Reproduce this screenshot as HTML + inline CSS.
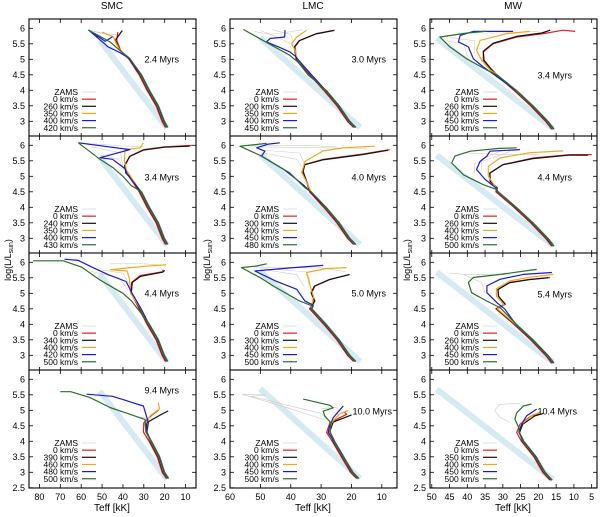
<!DOCTYPE html>
<html><head><meta charset="utf-8"><style>
html,body{margin:0;padding:0;background:#fff;}
svg{display:block;font-family:"Liberation Sans",sans-serif;}
</style></head><body>
<svg id="fig" width="600" height="517" viewBox="0 0 600 517" xmlns="http://www.w3.org/2000/svg">
<text x="112" y="9" font-size="10" text-anchor="middle">SMC</text>
<text x="313" y="9" font-size="10" text-anchor="middle">LMC</text>
<text x="513" y="9" font-size="10" text-anchor="middle">MW</text>
<text x="112" y="511" font-size="10" text-anchor="middle">Teff [kK]</text>
<text x="313" y="511" font-size="10" text-anchor="middle">Teff [kK]</text>
<text x="513" y="511" font-size="10" text-anchor="middle">Teff [kK]</text>
<text transform="translate(11,260) rotate(-90)" font-size="9" text-anchor="middle">log(L/L<tspan font-size="7" dy="2">sun</tspan><tspan dy="-2">)</tspan></text>
<text transform="translate(210,260) rotate(-90)" font-size="9" text-anchor="middle">log(L/L<tspan font-size="7" dy="2">sun</tspan><tspan dy="-2">)</tspan></text>
<text transform="translate(410,260) rotate(-90)" font-size="9" text-anchor="middle">log(L/L<tspan font-size="7" dy="2">sun</tspan><tspan dy="-2">)</tspan></text>
</svg>
<script>
// ---- data ----
const colTicks0 = [80,70,60,50,40,30,20,10];
const colTicks1 = [60,50,40,30,20,10];
const colTicks2 = [50,45,40,35,30,25,20,15,10,5];
const yTicks = [2.5,3,3.5,4,4.5,5,5.5,6];
const ages = ["2.4 Myrs","3.0 Myrs","3.4 Myrs","3.4 Myrs","4.0 Myrs","4.4 Myrs","4.4 Myrs","5.0 Myrs","5.4 Myrs","9.4 Myrs","10.0 Myrs","10.4 Myrs"];
const vel11 = ["0 km/s","260 km/s","350 km/s","400 km/s","420 km/s"];
const vel21 = ["0 km/s","240 km/s","350 km/s","400 km/s","430 km/s"];
const vel31 = ["0 km/s","340 km/s","400 km/s","420 km/s","500 km/s"];
const vel41 = ["0 km/s","390 km/s","460 km/s","480 km/s","500 km/s"];
const vel12 = ["0 km/s","200 km/s","350 km/s","400 km/s","450 km/s"];
const vel22 = ["0 km/s","300 km/s","400 km/s","450 km/s","480 km/s"];
const vel32 = ["0 km/s","300 km/s","400 km/s","450 km/s","500 km/s"];
const vel42 = ["0 km/s","300 km/s","400 km/s","450 km/s","500 km/s"];
const vel13 = ["0 km/s","260 km/s","400 km/s","450 km/s","500 km/s"];
const vel23 = ["0 km/s","260 km/s","400 km/s","450 km/s","500 km/s"];
const vel33 = ["0 km/s","260 km/s","400 km/s","450 km/s","500 km/s"];
const vel43 = ["0 km/s","350 km/s","400 km/s","450 km/s","500 km/s"];
// main sequence (Teff kK, logL)
const msSMC = [[36.6,5.0],[31.8,4.5],[28,4.0],[23.7,3.5],[20.8,3.0],[19.2,2.8]];
const msLMC = [[38,5.0],[33.5,4.5],[28.8,4.0],[24.5,3.5],[21,3.0],[19,2.8]];
const msMW = [[35,5.0],[31.7,4.5],[26.6,4.0],[21.9,3.5],[17.7,3.0],[16,2.75]];
const msSMCold = [[28.6,4.28],[27,4.0],[23.1,3.5],[20.7,3.0],[18.8,2.8]];
const msLMCold = [[28,4.28],[26,4.0],[23,3.5],[20,3.0],[18,2.8]];
const msMWold = [[25.5,4.28],[24.5,4.0],[21,3.5],[18.5,3.0],[16.5,2.75]];
const zamsSMC = [[51.2,5.62],[18.9,2.78]];
const zamsLMC = [[50.1,5.7],[17.2,2.8]];
const zamsMW = [[48.6,5.68],[15.9,2.77]];
// row1 col1
const r1c1Red=[[42.4,5.88],[43.0,5.62],[41.2,5.3]];
const r1c1Black=[[40.3,5.93],[43.6,5.62],[41.5,5.3]];
const r1c1Orange=[[50,5.88],[44.5,5.72],[43.5,5.55],[41.5,5.3]];
const r1c1Blue=[[45,5.73],[48.5,5.58],[56.4,5.94],[47,5.4],[41,5.2],[37.5,5.05]];
const r1c1Green=[[56.4,5.94],[46.2,5.56],[40,5.2],[37,5.05]];
const r1c1Gray=[[[56,5.94],[48,5.82],[42,5.78]],[[54,5.9],[45,5.75],[43,5.5]]];
// row2 col1
const r2c1Red=[[7,6.0],[20,5.95],[30,5.86],[36.6,5.65],[39,5.35],[38.5,5.1]];
const r2c1Black=[[8,5.97],[20,5.94],[30,5.85],[36.8,5.64],[39.2,5.35],[38.6,5.1]];
const r2c1Orange=[[30.2,6.08],[31.8,5.92],[39,5.86],[39.3,5.5],[38.3,5.2]];
const r2c1Blue=[[61.4,6.08],[36.6,5.86],[51,5.6],[45,5.55],[39,5.25],[37.8,5.05]];
const r2c1Green=[[61.4,6.08],[51,5.55],[44.6,5.27],[40,5.0],[36,4.7]];
const r2c1Gray=[[[61,6.08],[40,5.98],[30,5.95]],[[55,5.95],[41,5.75],[40,5.3]],[[52,5.7],[42,5.55],[39.5,5.2]]];
// row3 col1
const r3c1Red=[[21,5.76],[20.5,5.7],[31.8,5.57],[35.8,5.35],[36.3,5.02],[34.5,4.8]];
const r3c1Black=[[20,5.74],[21,5.68],[31.5,5.55],[35.5,5.35],[36,5.02],[34.3,4.8]];
const r3c1Orange=[[19.2,5.92],[30,5.87],[46,5.76],[38,5.72],[37,5.5],[36.5,5.2]];
const r3c1Blue=[[68,6.1],[61.4,6.06],[55,5.85],[47,5.6],[38.5,5.38],[36,5.05]];
const r3c1Green=[[83,6.05],[68.6,6.05],[60,5.85],[51,5.43],[40,5.0],[35.8,4.75],[33,4.5]];
const r3c1Gray=[[[46,5.95],[30,5.95],[20,5.9]],[[50,5.75],[40,5.65],[37,5.3]],[[55,5.7],[42,5.5],[37.5,5.1]]];
// row4 col1
const r4c1Red=[[23,5.0],[26,4.85],[30,4.6],[30.2,4.3]];
const r4c1Black=[[18.3,4.98],[22,4.85],[28.6,4.6],[28.6,4.28]];
const r4c1Orange=[[23.1,5.25],[22.5,5.05],[27,4.82],[29.4,4.55],[29,4.3]];
const r4c1Blue=[[57.4,5.52],[45,5.45],[30.2,5.14],[27.8,4.6],[28.5,4.3]];
const r4c1Green=[[70,5.6],[65,5.6],[55.8,5.41],[46.2,5.09],[36.6,4.87],[29.4,4.7],[29,4.3]];
const r4c1Gray=[[[33,4.8],[29,4.75],[28,4.6]]];
// row1 col2
const r1c2Red=[[25.5,5.94],[31.5,5.83],[37,5.61],[38.6,5.4],[38.3,5.18]];
const r1c2Black=[[25.8,5.93],[31.7,5.82],[37.2,5.6],[38.8,5.4],[38.5,5.18]];
const r1c2Orange=[[34.8,5.94],[38,5.72],[39.7,5.5],[38.6,5.3]];
const r1c2Blue=[[41.9,5.94],[42,5.72],[46.8,5.67],[48,5.56],[44,5.4],[40.3,5.24],[38.5,5.1]];
const r1c2Green=[[55.6,5.96],[48,5.55],[40.3,5.13],[37.5,4.9],[34.3,4.5]];
const r1c2Gray=[[[50,5.93],[44,5.7],[40,5.5]],[[46,5.95],[40,5.8],[39,5.55]],[[52,5.9],[47,5.8],[43,5.85],[36,5.95]]];
// row2 col2
const r2c2Red=[[7.4,5.86],[16,5.72],[29.3,5.55],[35.3,5.38],[35.9,5.16],[35,4.9]];
const r2c2Black=[[8,5.84],[16.5,5.7],[29.5,5.53],[35.5,5.37],[36,5.15],[35,4.9]];
const r2c2Orange=[[12.3,5.97],[22.7,5.92],[29.3,5.82],[35.3,5.48],[36.4,5.12],[35.2,4.9]];
const r2c2Blue=[[43.6,6.08],[47.4,6.04],[51.2,5.92],[48.5,5.81],[49.6,5.65],[42,5.2],[35.9,4.73],[33.5,4.5]];
const r2c2Green=[[47.9,6.06],[56.7,5.97],[49.6,5.65],[40.3,5.11],[35.3,4.63],[33.3,4.5]];
const r2c2Gray=[[[52,5.95],[30,5.92],[15,5.9]],[[50,5.85],[37,5.75],[35.5,5.4]],[[49,5.75],[38,5.55],[36.5,5.3]],[[53,5.98],[35,6.0],[25,5.95]]];
// row3 col2
const r3c2Red=[[20.5,5.61],[27.1,5.45],[32,5.24],[33.1,5.02],[32,4.75]];
const r3c2Black=[[20.8,5.6],[27.3,5.44],[32.2,5.23],[33.3,5.02],[32.2,4.75]];
const r3c2Orange=[[21.6,5.83],[28.2,5.8],[34.8,5.67],[34.2,5.5],[33.5,5.2],[32.5,4.9]];
const r3c2Blue=[[29.3,5.9],[40,5.82],[51.8,5.72],[45,5.4],[38,5.13],[35.3,4.75],[32.6,4.62]];
const r3c2Green=[[47.9,5.95],[51.2,5.88],[56.2,5.83],[50,5.5],[45.8,5.24],[37,4.75],[32.6,4.58]];
const r3c2Gray=[[[50,5.8],[35,5.7],[34,5.3]],[[48,5.75],[38,5.6],[35.5,5.2]],[[52,5.85],[30,5.82],[22,5.7]]];
// row4 col2
const r4c2Red=[[22.5,4.95],[21.6,4.87],[27.1,4.6],[28.2,4.28]];
const r4c2Black=[[20,4.85],[26,4.62],[27.2,4.3]];
const r4c2Orange=[[21,5.0],[24,4.88],[26.5,4.6],[27.5,4.3]];
const r4c2Blue=[[22.7,5.14],[23.5,5.05],[26,4.76],[27.3,4.45]];
const r4c2Green=[[35.9,5.36],[31,5.25],[27.1,5.16],[26,5.08],[29.3,4.97],[28.8,4.82],[26.8,4.6],[27,4.3]];
const r4c2Gray=[[[56,5.52],[48,5.5],[53,5.45],[30,4.9],[28,4.7]],[[56,5.52],[40,5.05],[29,4.7]],[[30,5.05],[25,5.1],[24,5.0]]];
// row1 col3
const r1c3Red=[[9.7,5.9],[13,5.94],[18.6,5.83],[26.1,5.72],[32.7,5.5],[35.5,5.24],[35.5,4.97],[33.6,4.7]];
const r1c3Black=[[16.7,5.94],[19,5.85],[26.1,5.74],[32.7,5.52],[35.5,5.26],[35.3,4.97],[33.4,4.7]];
const r1c3Orange=[[22.4,5.9],[28.9,5.83],[36.4,5.61],[37.4,5.29],[36,4.97],[33.5,4.65]];
const r1c3Blue=[[27.1,5.9],[38.3,5.9],[42,5.77],[42.5,5.56],[39.7,5.4],[38.3,5.02],[35.5,4.75],[33,4.55]];
const r1c3Green=[[34.5,5.91],[40,5.85],[47.7,5.72],[44.9,5.4],[40.2,5.02],[34.5,4.65],[31.7,4.5]];
const r1c3Gray=[[[45,5.7],[38,5.6],[38,5.2]],[[43,5.85],[30,5.85],[20,5.9]],[[46,5.6],[41,5.5],[40,5.1]]];
// row2 col3
const r2c3Red=[[5,5.7],[11,5.7],[21.4,5.59],[29.9,5.38],[33.6,5.11],[33.6,4.84],[31.7,4.63]];
const r2c3Black=[[6,5.68],[11.5,5.68],[21.6,5.57],[30,5.37],[33.7,5.1],[33.5,4.84],[31.6,4.63]];
const r2c3Orange=[[13,5.82],[22.4,5.76],[30.8,5.59],[34.1,5.32],[34.1,5.0],[32,4.65]];
const r2c3Blue=[[25.2,5.86],[33.6,5.81],[34.5,5.65],[36.4,5.48],[37.4,5.22],[35,4.9],[32,4.63]];
const r2c3Green=[[26.1,5.92],[31,5.9],[39.2,5.81],[43.5,5.65],[44.4,5.43],[41.1,5.05],[35.5,4.73],[31.7,4.57]];
const r2c3Gray=[[[30,5.85],[36,5.55],[36,5.2]],[[28,5.8],[38,5.4],[38,5.1]],[[40,5.75],[30,5.7],[20,5.7]]];
// row3 col3
const r3c3Red=[[16.7,5.51],[22.4,5.45],[28,5.35],[31.3,5.13],[31.3,4.91],[29.4,4.65]];
const r3c3Black=[[17.2,5.5],[22.6,5.44],[28.2,5.34],[31.4,5.12],[31.2,4.9],[29.3,4.65]];
const r3c3Orange=[[15.8,5.61],[22.4,5.52],[28,5.4],[31.8,5.15],[31.8,4.9],[29.6,4.62]];
const r3c3Blue=[[16.2,5.67],[24.2,5.61],[30.8,5.45],[34.5,5.24],[34.5,5.02],[31.7,4.7],[29.5,4.5]];
const r3c3Green=[[20.5,5.77],[30.8,5.61],[38.3,5.51],[39.7,5.35],[38.8,5.02],[34.5,4.75],[30.8,4.54]];
const r3c3Gray=[[[45,5.65],[40,5.6],[28,5.6]],[[41,5.6],[36,5.35],[35,5.0]]];
// row4 col3
const r4c3Red=[[20,4.88],[22,4.82],[25.2,4.55],[26.1,4.28]];
const r4c3Black=[[18.6,4.9],[21,4.82],[24.4,4.55],[25.3,4.28]];
const r4c3Orange=[[19.2,4.95],[21.5,4.85],[24.8,4.55],[25.5,4.3]];
const r4c3Blue=[[20.5,5.04],[23.3,4.82],[24.5,4.6],[25.5,4.3]];
const r4c3Green=[[21.9,5.2],[24.2,5.14],[26.1,4.92],[26.6,4.71],[25.5,4.44],[25.4,4.3]];
const r4c3Gray=[[[25.2,5.23],[30.9,5.19],[32.3,5.0],[30.9,4.78],[28.1,4.62]]];

// ---- layout ----
const NS="http://www.w3.org/2000/svg";
const svg=document.getElementById('fig');
const colGeom=[{x0:29,x1:196,tMax:85,tMin:5},{x0:230,x1:397,tMax:60,tMin:5},{x0:430,x1:597,tMax:50.5,tMin:3.5}];
const rowTop=[19,136,253,370];
const rowH=118, lTop=6.3, pxPerL=31;
const colNames=["smc","lmc","mw"];
const colTickSets=[colTicks0,colTicks1,colTicks2];
const colMS=[msSMC,msLMC,msMW];
const colMSold=[msSMCold,msLMCold,msMWold];
const colZams=[zamsSMC,zamsLMC,zamsMW];
const agePos=[[179,59],[386,59],[572,75],[179,177],[386,177],[572,177],[179,293],[386,293],[572,294],[179,390],[392,411],[577,411]];
const velSets=[[vel11,vel12,vel13],[vel21,vel22,vel23],[vel31,vel32,vel33],[vel41,vel42,vel43]];
const seriesByPanel=[
 [[r1c1Red,r1c1Black,r1c1Orange,r1c1Blue,r1c1Green,r1c1Gray],[r1c2Red,r1c2Black,r1c2Orange,r1c2Blue,r1c2Green,r1c2Gray],[r1c3Red,r1c3Black,r1c3Orange,r1c3Blue,r1c3Green,r1c3Gray]],
 [[r2c1Red,r2c1Black,r2c1Orange,r2c1Blue,r2c1Green,r2c1Gray],[r2c2Red,r2c2Black,r2c2Orange,r2c2Blue,r2c2Green,r2c2Gray],[r2c3Red,r2c3Black,r2c3Orange,r2c3Blue,r2c3Green,r2c3Gray]],
 [[r3c1Red,r3c1Black,r3c1Orange,r3c1Blue,r3c1Green,r3c1Gray],[r3c2Red,r3c2Black,r3c2Orange,r3c2Blue,r3c2Green,r3c2Gray],[r3c3Red,r3c3Black,r3c3Orange,r3c3Blue,r3c3Green,r3c3Gray]],
 [[r4c1Red,r4c1Black,r4c1Orange,r4c1Blue,r4c1Green,r4c1Gray],[r4c2Red,r4c2Black,r4c2Orange,r4c2Blue,r4c2Green,r4c2Gray],[r4c3Red,r4c3Black,r4c3Orange,r4c3Blue,r4c3Green,r4c3Gray]]
];
const sColors=["#e0201c","#111111","#f2a81a","#1a1ad2","#2a6e2a"];
const sNames=["red","black","orange","blue","green"];
const sShift=[-1,0,0.6,1,1.5];

function el(tag,attrs,parent){const e=document.createElementNS(NS,tag);for(const k in attrs)e.setAttribute(k,attrs[k]);(parent||svg).appendChild(e);return e;}
function xs(c,T){const g=colGeom[c];return g.x0+(g.tMax-T)*(g.x1-g.x0)/(g.tMax-g.tMin);}
function ys(r,L){return rowTop[r]+(lTop-L)*pxPerL;}
function pathD(c,r,pts,dx){return pts.map((p,i)=>(i?'L':'M')+(xs(c,p[0])+(dx||0)).toFixed(1)+' '+ys(r,p[1]).toFixed(1)).join(' ');}

const defs=el('defs',{});
for(let r=0;r<4;r++){for(let c=0;c<3;c++){
  const g=colGeom[c], top=rowTop[r];
  const cp=el('clipPath',{id:'cp'+r+c},defs);
  el('rect',{x:g.x0,y:top,width:g.x1-g.x0,height:rowH},cp);
  const panel=el('g',{});
  
  
  el('rect',{x:g.x0,y:top,width:g.x1-g.x0,height:rowH,fill:'#fff'},panel);
  const plot=el('g',{'clip-path':'url(#cp'+r+c+')'},panel);
  const z=el('path',{d:pathD(c,r,colZams[c]),stroke:'#d5eaf2',"stroke-width":6,fill:'none',"stroke-linecap":'butt'},plot);
  
  
  const ser=seriesByPanel[r][c];
  ser[5].forEach(gp=>{
    const gl=el('path',{d:pathD(c,r,gp),stroke:'#cccccc',"stroke-width":0.6,fill:'none'},plot);
    
    
  });
  const ms=(r===3)?colMSold[c]:colMS[c];
  for(let s=0;s<5;s++){
    const up=ser[s]; const lastL=up[up.length-1][1];
    const tail=ms.filter(p=>p[1]<lastL-0.05);
    const d=pathD(c,r,up)+' '+pathD(c,r,tail,sShift[s]).replace(/^M/,'L');
    const pl=el('path',{d:d,stroke:sColors[s],"stroke-width":1.2,fill:'none',"stroke-linejoin":'round'},plot);
    
    
  }
  // legend
  const vels=velSets[r][c];
  const labels=["ZAMS"].concat(vels);
  const lcol=["#dde9ee"].concat(sColors);
  labels.forEach((lb,i)=>{
    const yy=top+73+i*7.15;
    const t=el('text',{x:g.x0+49,y:yy+3,"font-size":8.5,"text-anchor":'end'},panel);
    t.textContent=lb;
    
    
    el('line',{x1:g.x0+53,x2:g.x0+67,y1:yy,y2:yy,stroke:lcol[i],"stroke-width":1.2},panel);
  });
  // age label
  const ap=agePos[r*3+c];
  const at=el('text',{x:ap[0],y:ap[1]+3.5,"font-size":9,"text-anchor":'end'},panel);
  at.textContent=ages[r*3+c];
  
  
  // ticks
  colTickSets[c].forEach(t=>{
    const x=xs(c,t);
    el('line',{x1:x,x2:x,y1:top,y2:top+4,stroke:'#000',"stroke-width":0.8},panel);
    el('line',{x1:x,x2:x,y1:top+rowH,y2:top+rowH-4,stroke:'#000',"stroke-width":0.8},panel);
    if(r===3){const tl=el('text',{x:x,y:top+rowH+12,"font-size":9,"text-anchor":'middle'},panel);tl.textContent=String(t);
      
      }
  });
  yTicks.forEach(v=>{
    const y=ys(r,v); if(y<top+1||y>top+rowH-1) {
      if(!(r===3&&v===2.5)) return; }
    el('line',{x1:g.x0,x2:g.x0+4,y1:y,y2:y,stroke:'#000',"stroke-width":0.8},panel);
    el('line',{x1:g.x1,x2:g.x1-4,y1:y,y2:y,stroke:'#000',"stroke-width":0.8},panel);
    const yl=el('text',{x:g.x0-4,y:y+3,"font-size":9,"text-anchor":'end'},panel);
    yl.textContent=String(v);
    
    
  });
  el('rect',{x:g.x0,y:top,width:g.x1-g.x0,height:rowH,fill:'none',stroke:'#000',"stroke-width":1.1},panel);
}}
</script>
</body></html>
